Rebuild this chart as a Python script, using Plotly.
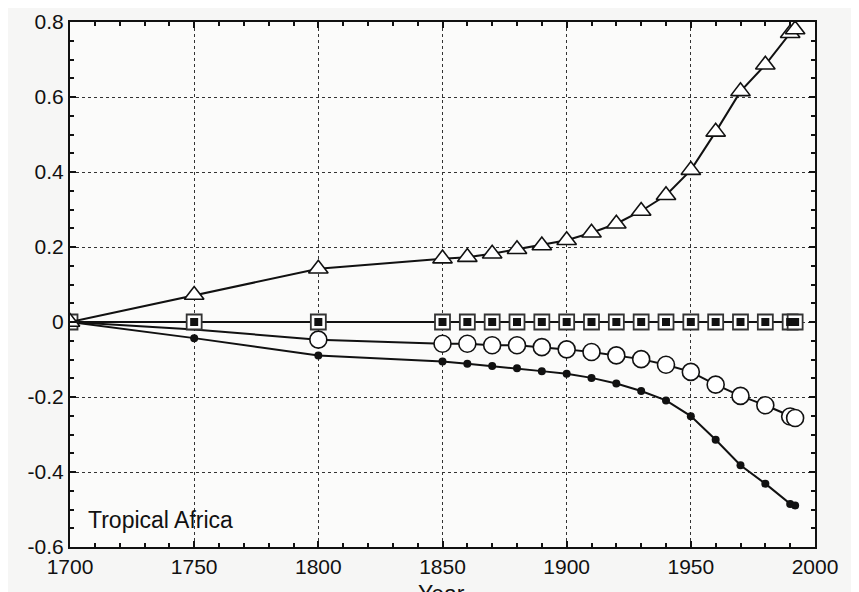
import plotly.graph_objects as go

years = [1700, 1750, 1800, 1850, 1860, 1870, 1880, 1890, 1900, 1910, 1920,
         1930, 1940, 1950, 1960, 1970, 1980, 1990, 1992]
triangles = [0.0, 0.072, 0.142, 0.169, 0.173, 0.182, 0.194, 0.204, 0.218, 0.238,
             0.262, 0.296, 0.338, 0.405, 0.507, 0.615, 0.686, 0.77, 0.78]
squares = [0.0] * len(years)
open_circles = [0.0, -0.02, -0.047, -0.058, -0.058, -0.062, -0.062, -0.067, -0.073,
                -0.080, -0.089, -0.099, -0.114, -0.133, -0.167, -0.197, -0.222,
                -0.252, -0.256]
dots = [0.0, -0.043, -0.089, -0.105, -0.111, -0.117, -0.123, -0.131, -0.138, -0.149,
        -0.164, -0.184, -0.209, -0.251, -0.314, -0.382, -0.431, -0.485, -0.489]

x_ticks = [1700, 1750, 1800, 1850, 1900, 1950, 2000]
y_ticks = [-0.6, -0.4, -0.2, 0, 0.2, 0.4, 0.6, 0.8]
y_labels = ["-0.6", "-0.4", "-0.2", "0", "0.2", "0.4", "0.6", "0.8"]
region_label = "Tropical Africa"
x_title = "Year"

INK = "#111111"
FONT = "Liberation Sans, Arial, sans-serif"
# open-circle markers at 1700/1750 are hidden behind the square markers in the original
circle_sizes = [0, 0] + [17] * (len(years) - 2)

fig = go.Figure()

fig.add_trace(go.Scatter(
    x=years, y=dots, mode="lines+markers",
    line=dict(color=INK, width=2),
    marker=dict(symbol="circle", size=8, color=INK), showlegend=False))
fig.add_trace(go.Scatter(
    x=years, y=open_circles, mode="lines+markers",
    line=dict(color=INK, width=2),
    marker=dict(symbol="circle", size=circle_sizes, color="white", opacity=1,
                line=dict(color=INK, width=1.6)),
    showlegend=False))
fig.add_trace(go.Scatter(
    x=years, y=squares, mode="lines+markers",
    line=dict(color=INK, width=2),
    marker=dict(symbol="square", size=15, color="white", line=dict(color="#333333", width=1.8)),
    showlegend=False))
fig.add_trace(go.Scatter(
    x=years[1:], y=squares[1:], mode="markers",
    marker=dict(symbol="square", size=8, color=INK), showlegend=False))
fig.add_trace(go.Scatter(
    x=years, y=triangles, mode="lines+markers",
    line=dict(color=INK, width=2),
    marker=dict(symbol="triangle-up", size=17, color="white", line=dict(color=INK, width=1.6)),
    showlegend=False))

fig.add_annotation(x=0.022, y=0.052, xref="paper", yref="paper", xanchor="left",
                   yanchor="middle", text=region_label, showarrow=False,
                   font=dict(family=FONT, size=23, color=INK))
fig.add_annotation(x=0.498, y=-0.06, xref="paper", yref="paper", xanchor="center",
                   yanchor="top", text=x_title, showarrow=False,
                   font=dict(family=FONT, size=23, color=INK))

axis_common = dict(
    showline=True, linecolor=INK, linewidth=2, mirror="ticks",
    ticks="inside", ticklen=6, tickwidth=1.5, tickcolor=INK,
    showgrid=True, gridcolor="#333333", gridwidth=1, griddash="dot",
    zeroline=False,
    tickfont=dict(family=FONT, size=21, color=INK),
)

fig.update_xaxes(range=[1700, 2000], tickvals=x_ticks,
                 minor=dict(dtick=10, ticks="inside", ticklen=4, tickcolor=INK, showgrid=False),
                 **axis_common)
fig.update_yaxes(range=[-0.6, 0.8], tickvals=y_ticks, ticktext=y_labels,
                 minor=dict(dtick=0.05, ticks="inside", ticklen=4, tickcolor=INK, showgrid=False),
                 **axis_common)

fig.update_layout(
    width=851, height=584,
    margin=dict(l=62, r=44, t=14, b=45, autoexpand=False),
    paper_bgcolor="#f6f6f5", plot_bgcolor="#fbfbfa",
)

fig.write_html("out.html")
